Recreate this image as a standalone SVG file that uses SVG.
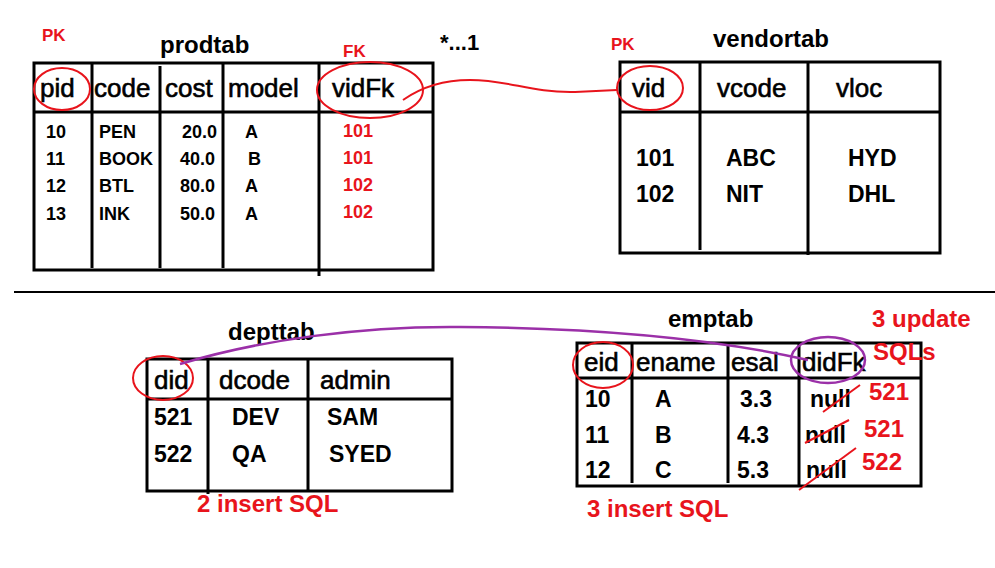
<svg xmlns="http://www.w3.org/2000/svg" width="995" height="568" viewBox="0 0 995 568">
<style>
text{font-family:"Liberation Sans",Arial,sans-serif;fill:#000}
.t{font-size:24px;font-weight:bold}
.h{font-size:26px;stroke:#000;stroke-width:0.6}
.d{font-size:18px;font-weight:bold}
.d2{font-size:23px;font-weight:bold}
.r{fill:#e8141c}
.pk{font-size:17px;font-weight:bold}
.rl{font-size:24px;font-weight:bold}
.grid{fill:none;stroke:#000;stroke-width:3}
.ln{stroke:#000;stroke-width:3}
.rc{fill:none;stroke:#e8141c;stroke-width:2}
.pc{fill:none;stroke:#9b30a8;stroke-width:2.5}
</style>
<rect width="995" height="568" fill="#fff"/>

<g id="prodtab">
<text class="pk r" x="42" y="41">PK</text>
<text class="t" x="160" y="53">prodtab</text>
<text class="pk r" x="343" y="57">FK</text>
<rect class="grid" x="34" y="63" width="399" height="207"/>
<line class="ln" x1="34" y1="112" x2="433" y2="112"/>
<line class="ln" x1="92" y1="64" x2="92" y2="268"/>
<line class="ln" x1="160" y1="66" x2="160" y2="268"/>
<line class="ln" x1="223" y1="64" x2="223" y2="268"/>
<line class="ln" x1="319" y1="64" x2="319" y2="276"/>
<text class="h" x="40" y="97">pid</text>
<text class="h" x="94" y="97">code</text>
<text class="h" x="165" y="97">cost</text>
<text class="h" x="228" y="97">model</text>
<text class="h" x="332" y="97">vidFk</text>
<g class="d">
<text x="46" y="138">10</text><text x="46" y="165">11</text><text x="46" y="192">12</text><text x="46" y="220">13</text>
<text x="99" y="138">PEN</text><text x="99" y="165">BOOK</text><text x="99" y="192">BTL</text><text x="99" y="220">INK</text>
<text x="217" y="138" text-anchor="end">20.0</text><text x="215" y="165" text-anchor="end">40.0</text><text x="215" y="192" text-anchor="end">80.0</text><text x="215" y="220" text-anchor="end">50.0</text>
<text x="245" y="138">A</text><text x="248" y="165">B</text><text x="245" y="192">A</text><text x="245" y="220">A</text>
<text class="r" x="343" y="137">101</text><text class="r" x="343" y="164">101</text><text class="r" x="343" y="191">102</text><text class="r" x="343" y="218">102</text>
</g>
<ellipse class="rc" cx="62" cy="89" rx="28" ry="21"/>
<ellipse class="rc" cx="370" cy="90" rx="53" ry="28"/>
</g>

<g id="vendortab">
<text class="pk r" x="611" y="50">PK</text>
<text class="t" x="713" y="47">vendortab</text>
<rect class="grid" x="620" y="62" width="320" height="191"/>
<line class="ln" x1="620" y1="112" x2="940" y2="112"/>
<line class="ln" x1="700" y1="63" x2="700" y2="250"/>
<line class="ln" x1="808" y1="63" x2="808" y2="255"/>
<text class="h" x="632" y="97">vid</text>
<text class="h" x="717" y="97">vcode</text>
<text class="h" x="836" y="97">vloc</text>
<g class="d2">
<text x="636" y="166">101</text><text x="636" y="202">102</text>
<text x="726" y="166">ABC</text><text x="726" y="202">NIT</text>
<text x="848" y="166">HYD</text><text x="848" y="202">DHL</text>
</g>
<ellipse class="rc" cx="650" cy="88" rx="33" ry="22"/>
</g>

<g id="depttab">
<text class="t" x="228" y="340">depttab</text>
<rect class="grid" x="147" y="359" width="305" height="132"/>
<line class="ln" x1="147" y1="399" x2="452" y2="399"/>
<line class="ln" x1="208" y1="359" x2="208" y2="494"/>
<line class="ln" x1="308" y1="359" x2="308" y2="491"/>
<text class="h" x="154" y="389">did</text>
<text class="h" x="219" y="389">dcode</text>
<text class="h" x="320" y="389">admin</text>
<g class="d2">
<text x="154" y="425">521</text><text x="154" y="462">522</text>
<text x="232" y="425">DEV</text><text x="232" y="462">QA</text>
<text x="327" y="425">SAM</text><text x="329" y="462">SYED</text>
</g>
<ellipse class="rc" cx="163" cy="378" rx="30" ry="22"/>
<text class="rl r" x="197" y="512">2 insert SQL</text>
</g>

<g id="emptab">
<text class="t" x="668" y="327">emptab</text>
<rect class="grid" x="577" y="343" width="344" height="143"/>
<line class="ln" x1="577" y1="378" x2="921" y2="378"/>
<line class="ln" x1="632" y1="343" x2="632" y2="483"/>
<line class="ln" x1="728" y1="343" x2="728" y2="483"/>
<line class="ln" x1="799" y1="343" x2="799" y2="486"/>
<text class="h" x="584" y="371">eid</text>
<text class="h" x="636" y="371">ename</text>
<text class="h" x="731" y="371">esal</text>
<text class="h" x="802" y="371">didFk</text>
<g class="d2">
<text x="585" y="407">10</text><text x="585" y="443">11</text><text x="585" y="478">12</text>
<text x="655" y="407">A</text><text x="655" y="443">B</text><text x="655" y="478">C</text>
<text x="740" y="407">3.3</text><text x="737" y="443">4.3</text><text x="737" y="478">5.3</text>
<text x="810" y="407">null</text><text x="805" y="443">null</text><text x="806" y="478">null</text>
</g>
<ellipse class="rc" cx="603" cy="365" rx="30" ry="23"/>
<ellipse class="pc" cx="828" cy="360" rx="37" ry="23"/>
<line class="rc" x1="823" y1="412" x2="860" y2="385"/>
<line class="rc" x1="805" y1="443" x2="849" y2="420"/>
<line class="rc" x1="799" y1="490" x2="856" y2="448"/>
<text class="rl r" x="872" y="327">3 update</text>
<text class="rl r" x="873" y="360">SQLs</text>
<text class="rl r" x="869" y="400">521</text>
<text class="rl r" x="864" y="437">521</text>
<text class="rl r" x="862" y="470">522</text>
<text class="rl r" x="587" y="517">3 insert SQL</text>
</g>

<g id="connectors">
<line x1="14" y1="292" x2="995" y2="292" stroke="#000" stroke-width="2"/>
<text x="440" y="50" style="font-size:22px;font-weight:bold">*...1</text>
<path class="rc" d="M403 100 C420 88 440 80 470 80 C510 80 530 93 575 92 L617 90"/>
<path class="pc" d="M180 364 C260 340 360 326 460 327 C600 328 720 340 808 360"/>
</g>
</svg>
